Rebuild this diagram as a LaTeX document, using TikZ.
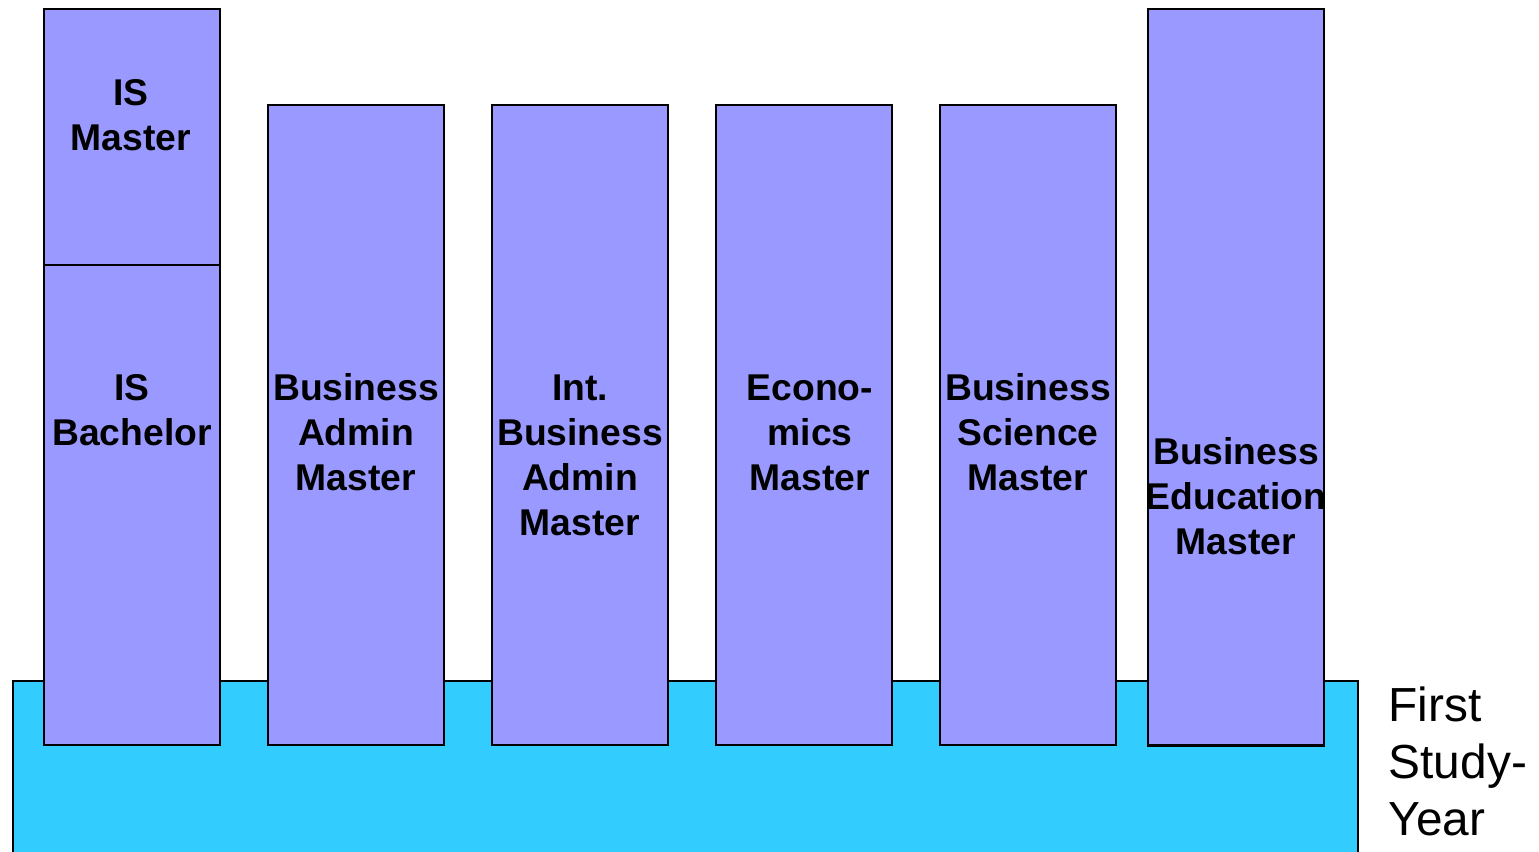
\documentclass[tikz,border=0pt]{standalone}
\usepackage{fontspec}
\setmainfont{Liberation Sans}
\usetikzlibrary{positioning}
\definecolor{progblue}{HTML}{9999FF}
\definecolor{yearcyan}{HTML}{33CCFF}
\tikzstyle{prog}=[rectangle, draw, line width=0.6pt, fill=progblue, minimum width=1.76cm, inner sep=0pt, anchor=north]
\tikzstyle{progtext}=[align=center, inner sep=0pt, font=\bfseries\fontsize{10.6pt}{12.8pt}\selectfont]
\tikzstyle{yeartext}=[align=left, inner sep=0pt, anchor=west, font=\fontsize{13.6pt}{16.2pt}\selectfont]

\begin{document}
\begin{tikzpicture}[x=0.01cm, y=-0.01cm]
  \clip (0,0) rectangle (1539,852);
  % first study year
  \node[draw, line width=0.6pt, fill=yearcyan, minimum width=13.44cm, minimum height=2.0cm, inner sep=0pt, anchor=north west] (firstyear) at (12,680) {};
  \node[yeartext] (firstyeartext) at (1388,761.5) {First\\Study-\\Year};
  % programmes
  \node[prog, minimum height=2.56cm] (ismaster) at (132,8) {};
  \node[prog, minimum height=4.80cm] (isbachelor) at (132,264) {};
  \node[prog, minimum height=6.40cm] (busadmin) at (356,104) {};
  \node[prog, minimum height=6.40cm] (intbusadmin) at (580,104) {};
  \node[prog, minimum height=6.40cm] (economics) at (804,104) {};
  \node[prog, minimum height=6.40cm] (busscience) at (1028,104) {};
  \node[prog, minimum height=7.36cm] (busedu) at (1236,8) {};
  % labels
  \node[progtext] (ismastertext) at (131,115.5) {IS\\Master};
  \node[progtext] (isbachelortext) at (132,410) {IS\\Bachelor};
  \node[progtext] (busadmintext) at (356,432.5) {Business\\Admin\\Master};
  \node[progtext] (intbusadmintext) at (580,455) {Int.\\Business\\Admin\\Master};
  \node[progtext] (economicstext) at (810,432.5) {Econo-\\mics\\Master};
  \node[progtext] (busscincetext) at (1028,432.5) {Business\\Science\\Master};
  \node[progtext] (busedutext) at (1236,496.5) {Business\\Education\\Master};
\end{tikzpicture}
\end{document}
